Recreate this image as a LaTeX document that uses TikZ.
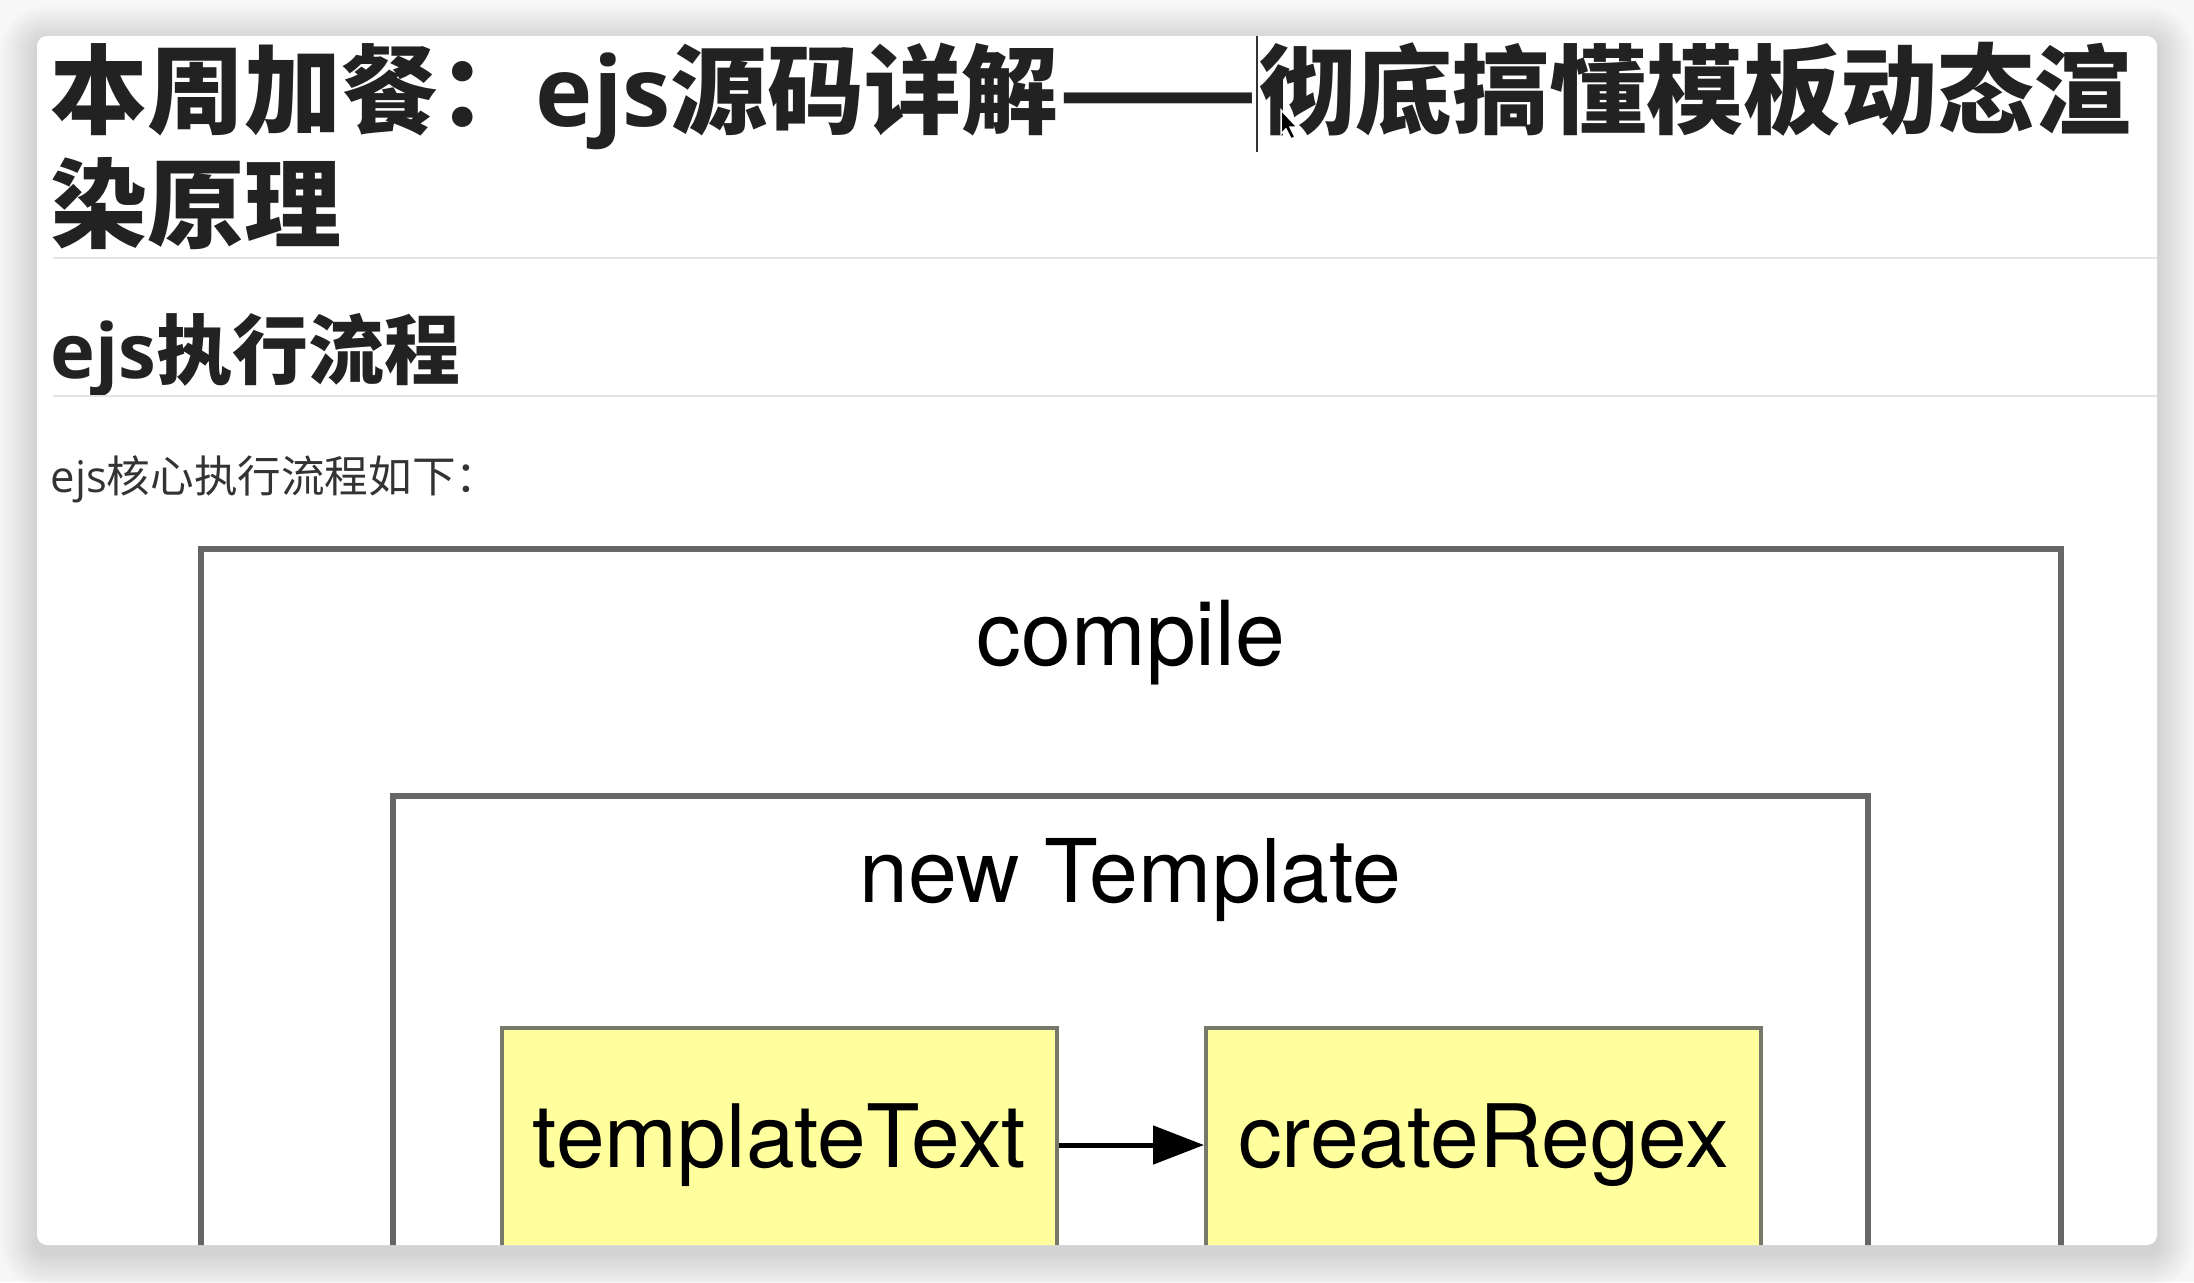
\documentclass[tikz,border=0pt]{standalone}
\usepackage{fontspec}
\setmainfont{Noto Sans CJK SC}
\newfontfamily\opensans{Open Sans}
\newfontfamily\heros{TeX Gyre Heros}
\usepackage{xcolor}
\usepackage{graphicx}
\usepackage{tikz}
\usetikzlibrary{positioning}
\usetikzlibrary{arrows.meta}

\definecolor{pagegray}{HTML}{F7F7F7}
\definecolor{inkgray}{HTML}{222222}
\definecolor{bodygray}{HTML}{333333}
\definecolor{rulegray}{HTML}{E3E3E3}
\definecolor{framegray}{HTML}{666666}
\definecolor{notegold}{HTML}{FFFF9E}
\definecolor{noteedge}{HTML}{77776A}

\tikzset{
  headtext/.style={anchor=base west,inner sep=0pt,text=inkgray},
  frame/.style={draw=framegray,line width=0.55mm,anchor=north,inner sep=0pt},
  boxtitle/.style={anchor=base,inner sep=0pt,font=\heros\fontsize{#1}{30}\selectfont},
  boxtitle/.default=25,
  note/.style={draw=noteedge,fill=notegold,line width=0.4mm,minimum width=55.5mm,
    minimum height=23.4mm,inner sep=0pt,font=\heros\fontsize{24.9}{29}\selectfont}
}

\begin{document}
\begin{tikzpicture}[x=0.1mm,y=-0.1mm]
\useasboundingbox (0,0) rectangle (2194,1282);
\fill[pagegray] (0,0) rectangle (2194,1282);
\foreach \s in {1,...,12}
  \fill[black,opacity=0.011,rounded corners=1mm+0.3mm*\s]
    ({37-3*\s},{42-3*\s}) rectangle ({2157+3*\s},{1253+3*\s});
\fill[white,rounded corners=1mm] (37,36) rectangle (2157,1245);

\begin{scope}
\clip[rounded corners=1mm] (37,36) rectangle (2157,1245);

\node[headtext,font=\fontsize{27.6}{33}\selectfont\bfseries] (title1) at (50,126)
  {本周加餐：{\opensans ejs}源码详解\scalebox{1.2}[1]{——}彻底搞懂模板动态渲};
\node[headtext,font=\fontsize{27.6}{33}\selectfont\bfseries] (title2) at (50,240)
  {染原理};
\draw[rulegray,line width=0.2mm] (53,258) -- (2157,258);
\node[headtext,font=\fontsize{21.6}{26}\selectfont\bfseries] (subhead) at (50,378)
  {{\opensans ejs}执行流程};
\draw[rulegray,line width=0.2mm] (53,396) -- (2157,396);
\node[headtext,text=bodygray,font=\fontsize{12.4}{15}\selectfont] (intro) at (50,492)
  {{\opensans ejs}核心执行流程如下：};

\node[frame,minimum width=186mm,minimum height=80mm] (compilebox) at (1131,546) {};
\node[boxtitle=25.5] (compile) at (1131,665) {compile};
\node[frame,minimum width=147.5mm,minimum height=60mm] (tplbox) at (1130.5,793) {};
\node[boxtitle] (newtpl) at (1130.5,902) {new Template};

\node[note] (tpltext) at (779.5,1145) {templateText};
\node[note,right=14.5mm of tpltext] (regex) {createRegex};
\draw[-{Triangle[length=5.1mm,width=3.8mm]},line width=0.5mm] (tpltext) -- (regex);
\end{scope}

\draw[bodygray,line width=0.15mm] (1257,36) -- (1257,152);
\fill[black,draw=white,line width=0.15mm] (1281,110) -- ++(0,24) -- ++(5,-5)
  -- ++(5,10) -- ++(4,-2) -- ++(-5,-10) -- ++(7,0) -- cycle;
\end{tikzpicture}
\end{document}
